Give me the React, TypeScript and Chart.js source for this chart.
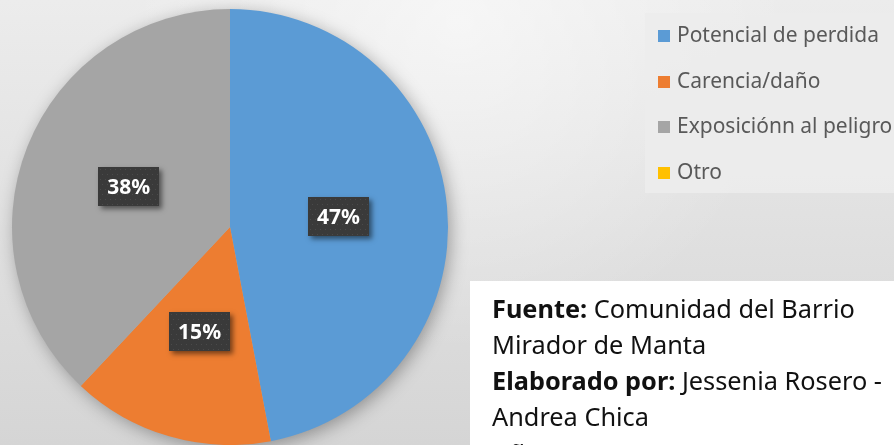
import React, { useEffect, useRef } from "react";
import { Chart, registerables } from "chart.js";

Chart.register(...registerables);

const categories = ["Potencial de perdida", "Carencia/daño", "Exposiciónn al peligro", "Otro"];
const values = [47, 15, 38, 0];
const colors = ["#5B9BD5", "#ED7D31", "#A5A5A5", "#FFC000"];
const noteLines: { bold: string; normal: string }[][] = [
  [{ bold: "Fuente:", normal: " Comunidad del Barrio" }],
  [{ bold: "", normal: "Mirador de Manta" }],
  [{ bold: "Elaborado por:", normal: " Jessenia Rosero -" }],
  [{ bold: "", normal: "Andrea Chica" }],
  [{ bold: "Año:", normal: " 2018" }],
];

const FONT = '"Noto Sans", "DejaVu Sans", sans-serif';

const bgPlugin = {
  id: "bgPlugin",
  beforeDraw(chart: any) {
    const { ctx, width, height } = chart;
    ctx.save();
    const lg = ctx.createLinearGradient(0, 0, 0, height);
    lg.addColorStop(0, "#ececec");
    lg.addColorStop(1, "#d5d5d5");
    ctx.fillStyle = lg;
    ctx.fillRect(0, 0, width, height);
    const rg = ctx.createRadialGradient(460, 20, 0, 460, 20, 330);
    rg.addColorStop(0, "rgba(255,255,255,0.55)");
    rg.addColorStop(1, "rgba(255,255,255,0)");
    ctx.fillStyle = rg;
    ctx.fillRect(0, 0, width, height);
    // legend panel
    ctx.fillStyle = "rgba(236,236,236,0.9)";
    ctx.fillRect(645, 13, width - 645, 180);
    // note panel
    ctx.fillStyle = "#ffffff";
    ctx.fillRect(470, 281, width - 470, height - 281);
    ctx.restore();
  },
  beforeDatasetsDraw(chart: any) {
    const meta = chart.getDatasetMeta(0);
    const arc = meta.data[0];
    if (!arc) return;
    const { ctx } = chart;
    ctx.save();
    ctx.shadowColor = "rgba(0,0,0,0.35)";
    ctx.shadowBlur = 18;
    ctx.shadowOffsetX = 3;
    ctx.shadowOffsetY = 4;
    ctx.fillStyle = "#b0b0b0";
    ctx.beginPath();
    ctx.arc(arc.x, arc.y, arc.outerRadius - 1, 0, Math.PI * 2);
    ctx.fill();
    ctx.restore();
  },
  afterDatasetsDraw(chart: any) {
    const { ctx } = chart;
    const meta = chart.getDatasetMeta(0);
    const data = chart.data.datasets[0].data as number[];
    const total = data.reduce((a, b) => a + b, 0);
    meta.data.forEach((arc: any, i: number) => {
      const v = data[i];
      if (!v) return;
      const p = arc.tooltipPosition();
      const w = 61, h = 39;
      const x = Math.round(p.x - w / 2), y = Math.round(p.y - h / 2);
      ctx.save();
      ctx.shadowColor = "rgba(0,0,0,0.5)";
      ctx.shadowBlur = 5;
      ctx.shadowOffsetX = 3;
      ctx.shadowOffsetY = 3;
      ctx.fillStyle = "#3a3a3a";
      ctx.fillRect(x, y, w, h);
      ctx.restore();
      ctx.save();
      ctx.fillStyle = "#4a4a4a";
      for (let yy = y + 2; yy < y + h; yy += 5) {
        for (let xx = x + 2 + ((yy - y) % 10 === 2 ? 0 : 2); xx < x + w; xx += 5) {
          ctx.fillRect(xx, yy, 1, 1);
        }
      }
      ctx.fillStyle = "#ffffff";
      ctx.font = `bold 21px ${FONT}`;
      ctx.textAlign = "center";
      ctx.textBaseline = "middle";
      ctx.fillText(Math.round((v / total) * 100) + "%", p.x, p.y + 1);
      ctx.restore();
    });

    // legend
    ctx.save();
    let lsize = 18;
    ctx.font = `${lsize}px ${FONT}`;
    const mw = ctx.measureText(categories[0]).width;
    lsize = (lsize * 202) / mw;
    ctx.font = `${lsize}px ${FONT}`;
    const ys = [36, 82, 127, 173];
    chart.data.labels.forEach((lab: string, i: number) => {
      const cy = ys[i];
      ctx.fillStyle = colors[i];
      ctx.fillRect(658, cy - 6, 12, 12);
      ctx.fillStyle = "#595959";
      ctx.textBaseline = "middle";
      ctx.textAlign = "left";
      ctx.fillText(lab, 677, cy);
    });
    ctx.restore();

    // note text
    ctx.save();
    let ns = 22;
    const measureLine = (segs: { bold: string; normal: string }[], s: number) => {
      let t = 0;
      segs.forEach((sg) => {
        ctx.font = `bold ${s}px ${FONT}`;
        t += ctx.measureText(sg.bold).width;
        ctx.font = `${s}px ${FONT}`;
        t += ctx.measureText(sg.normal).width;
      });
      return t;
    };
    ns = (ns * 363) / measureLine(noteLines[0], ns);
    const baselines = [318, 354, 390, 426, 463];
    ctx.fillStyle = "#111111";
    ctx.textBaseline = "alphabetic";
    ctx.textAlign = "left";
    noteLines.forEach((segs, li) => {
      let x = 492;
      segs.forEach((sg) => {
        ctx.font = `bold ${ns}px ${FONT}`;
        ctx.fillText(sg.bold, x, baselines[li]);
        x += ctx.measureText(sg.bold).width;
        ctx.font = `${ns}px ${FONT}`;
        ctx.fillText(sg.normal, x, baselines[li]);
        x += ctx.measureText(sg.normal).width;
      });
    });
    ctx.restore();
  },
};

export default function App() {
  const ref = useRef<HTMLCanvasElement | null>(null);
  useEffect(() => {
    document.body.style.margin = "0";
    if (!ref.current) return;
    const chart = new Chart(ref.current, {
      type: "pie",
      data: {
        labels: categories,
        datasets: [
          {
            data: values,
            backgroundColor: colors,
            borderWidth: 0,
            hoverOffset: 0,
            offset: 0,
          },
        ],
      },
      options: {
        animation: false,
        responsive: true,
        maintainAspectRatio: false,
        layout: { padding: { left: 12, top: 9, right: 446, bottom: 0 } },
        plugins: {
          legend: { display: false },
          tooltip: { enabled: false },
        },
      },
      plugins: [bgPlugin],
    });
    return () => chart.destroy();
  }, []);
  return (
    <div style={{ position: "fixed", left: 0, top: 0, width: 894, height: 445 }}>
      <canvas ref={ref} />
    </div>
  );
}
